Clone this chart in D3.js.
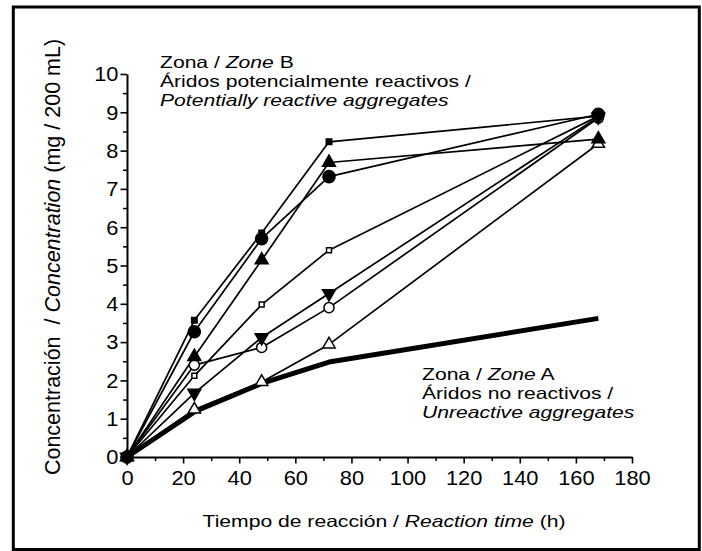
<!DOCTYPE html>
<html>
<head>
<meta charset="utf-8">
<script src="https://cdn.jsdelivr.net/npm/d3@7"></script>
<style>
  body { margin: 0; background: #fff; }
  svg { display: block; font-family: "Liberation Sans", Arial, sans-serif; }
  text { white-space: pre; }
</style>
</head>
<body>
<svg width="702" height="551"></svg>
<script>
// reaction times (h)
var times = [0, 24, 48, 72, 168];

// zone B series, one array per marker style
var filledSquare   = [0, 3.57, 5.85, 8.23, 8.90];
var filledCircle   = [0, 3.27, 5.70, 7.32, 8.95];
var filledTriUp    = [0, 2.62, 5.14, 7.69, 8.30];
var hollowSquare   = [0, 2.12, 3.98, 5.40, 8.90];
var filledTriDown  = [0, 1.67, 3.12, 4.27, 8.88];
var hollowCircle   = [0, 2.40, 2.86, 3.90, 8.85];
var hollowTriUp    = [0, 1.24, 1.96, 2.94, 8.18];

// zone A (thick line, no markers)
var zoneA          = [0, 1.18, 1.92, 2.48, 3.62];

var xTicks = [0, 20, 40, 60, 80, 100, 120, 140, 160, 180];
var yTicks = [0, 1, 2, 3, 4, 5, 6, 7, 8, 9, 10];

var svg = d3.select("svg");
var SX = 1.28;   // text in the source is drawn wide

// outer frame (right/bottom edges sit at the picture border)
svg.append("rect")
  .attr("x", 13.3).attr("y", 7)
  .attr("width", 686).attr("height", 542.5)
  .attr("fill", "none").attr("stroke", "#000").attr("stroke-width", 3);

var x = d3.scaleLinear().domain([0, 180]).range([127, 632]);
var y = d3.scaleLinear().domain([0, 10]).range([457, 74]);

// x axis, minor ticks first
svg.append("g")
  .attr("transform", "translate(0," + y(0) + ")")
  .call(d3.axisBottom(x).tickValues(d3.range(10, 180, 20)).tickSize(4).tickFormat(""))
  .call(function(g) { g.select(".domain").remove(); })
  .selectAll("line").attr("stroke-width", 1.5);

var xAxis = svg.append("g")
  .attr("transform", "translate(0," + y(0) + ")")
  .call(d3.axisBottom(x).tickValues(xTicks).tickSize(6.5).tickSizeOuter(0));
xAxis.select(".domain").attr("stroke-width", 2);
xAxis.selectAll("line").attr("stroke-width", 1.6);
xAxis.selectAll("text")
  .attr("font-size", 19.5).attr("fill", "#000")
  .attr("y", 0).attr("dy", 0)
  .attr("transform", "translate(0,28) scale(1.12,1)");

// y axis
svg.append("g")
  .attr("transform", "translate(" + x(0) + ",0)")
  .call(d3.axisLeft(y).tickValues(d3.range(0.5, 10, 1)).tickSize(4).tickFormat(""))
  .call(function(g) { g.select(".domain").remove(); })
  .selectAll("line").attr("stroke-width", 1.5);

var yAxis = svg.append("g")
  .attr("transform", "translate(" + x(0) + ",0)")
  .call(d3.axisLeft(y).tickValues(yTicks).tickSize(6.5).tickSizeOuter(0));
yAxis.select(".domain").attr("stroke-width", 2);
yAxis.selectAll("line").attr("stroke-width", 1.6);
yAxis.selectAll("text")
  .attr("font-size", 19.5).attr("fill", "#000")
  .attr("x", 0).attr("dy", "0.35em")
  .attr("transform", "translate(-8.5,0) scale(1.12,1)");

// axis titles
var xt = svg.append("text")
  .attr("transform", "translate(384,527) scale(" + SX + ",1)")
  .attr("text-anchor", "middle").attr("font-size", 16.5);
xt.append("tspan").text("Tiempo de reacción / ");
xt.append("tspan").attr("font-style", "italic").text("Reaction time");
xt.append("tspan").text(" (h)");

var yt = svg.append("text")
  .attr("transform", "translate(60,257) rotate(-90)")
  .attr("text-anchor", "middle").attr("font-size", 21.5);
yt.append("tspan").text("Concentración  / ");
yt.append("tspan").attr("font-style", "italic").text("Concentration");
yt.append("tspan").text(" (mg / 200 mL)");

// series
var series = [
  { v: zoneA, sym: null },
  { v: hollowTriUp, sym: d3.symbolTriangle, size: 66, fill: "#fff", rot: 0 },
  { v: hollowCircle, sym: d3.symbolCircle, size: 80, fill: "#fff", rot: 0 },
  { v: filledTriDown, sym: d3.symbolTriangle, size: 72, fill: "#000", rot: 180 },
  { v: hollowSquare, sym: d3.symbolSquare, size: 24, fill: "#fff", rot: 0 },
  { v: filledTriUp, sym: d3.symbolTriangle, size: 72, fill: "#000", rot: 0 },
  { v: filledCircle, sym: d3.symbolCircle, size: 115, fill: "#000", rot: 0 },
  { v: filledSquare, sym: d3.symbolSquare, size: 30, fill: "#000", rot: 0 }
];

var line = d3.line()
  .x(function(d, i) { return x(times[i]); })
  .y(function(d) { return y(d); });

series.forEach(function(s) {
  svg.append("path")
    .datum(s.v)
    .attr("d", line)
    .attr("fill", "none")
    .attr("stroke", "#000")
    .attr("stroke-width", s.sym ? 1.7 : 5)
    .attr("stroke-linejoin", "round");
});

series.forEach(function(s) {
  if (!s.sym) return;
  svg.append("g").selectAll("path")
    .data(s.v)
    .enter().append("path")
      .attr("d", d3.symbol().type(s.sym).size(s.size))
      .attr("transform", function(d, i) {
        return "translate(" + x(times[i]) + "," + y(d) + ") rotate(" + s.rot + ")";
      })
      .attr("fill", s.fill)
      .attr("stroke", "#000")
      .attr("stroke-width", 1.5);
});

// annotations
function block(x0, y0, lines) {
  lines.forEach(function(parts, i) {
    var t = svg.append("text")
      .attr("transform", "translate(" + x0 + "," + (y0 + i * 19) + ") scale(" + SX + ",1)")
      .attr("font-size", 16.5);
    parts.forEach(function(p) {
      t.append("tspan").attr("font-style", p[1] ? "italic" : "normal").text(p[0]);
    });
  });
}

block(160, 68, [
  [["Zona / ", 0], ["Zone", 1], [" B", 0]],
  [["Áridos potencialmente reactivos /", 0]],
  [["Potentially reactive aggregates", 1]]
]);

block(422, 380, [
  [["Zona / ", 0], ["Zone", 1], [" A", 0]],
  [["Áridos no reactivos /", 0]],
  [["Unreactive aggregates", 1]]
]);
</script>
</body>
</html>
